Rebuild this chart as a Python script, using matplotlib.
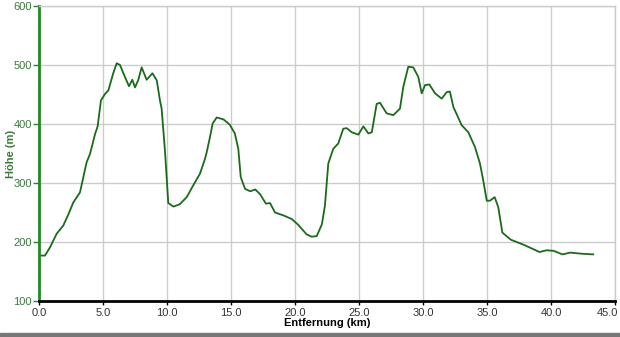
import numpy as np
import matplotlib.pyplot as plt
import matplotlib.transforms as mtransforms
from matplotlib.patches import Rectangle

# elevation profile
dist_km = [0.0, 0.47, 0.86, 1.38, 1.9, 2.3, 2.68, 3.2, 3.72, 3.98, 4.38, 4.58,
           4.84, 5.16, 5.42, 5.8, 6.07, 6.33, 6.59, 7.03, 7.29, 7.5, 7.76, 8.02,
           8.41, 8.86, 9.2, 9.45, 9.58, 9.84, 10.1, 10.5, 11.0, 11.54, 12.05,
           12.58, 12.97, 13.1, 13.36, 13.57, 13.88, 14.4, 14.9, 15.3, 15.57,
           15.76, 16.1, 16.5, 16.9, 17.27, 17.73, 18.05, 18.44, 19.1, 19.74,
           20.26, 20.9, 21.3, 21.7, 22.1, 22.34, 22.6, 22.99, 23.38, 23.77,
           24.04, 24.43, 24.95, 25.34, 25.73, 26.0, 26.38, 26.64, 27.16, 27.68,
           28.2, 28.46, 28.85, 29.24, 29.63, 29.9, 30.16, 30.5, 30.94, 31.46,
           31.85, 32.1, 32.37, 33.02, 33.54, 34.06, 34.45, 34.71, 34.98, 35.23,
           35.6, 35.88, 36.2, 36.85, 37.9, 38.7, 39.1, 39.66, 40.2, 40.9, 41.5,
           42.48, 43.3]
hoehe_m = [177, 177, 191, 214, 228, 247, 267, 284, 335, 349, 383, 396,
           440, 451, 457, 486, 503, 500, 486, 464, 475, 462, 475, 496,
           475, 486, 474, 440, 426, 355, 266, 260, 264, 276, 296,
           316, 341, 352, 378, 401, 411, 408, 399, 384, 358,
           310, 290, 286, 289, 281, 265, 266, 250, 245, 239,
           229, 213, 209, 210, 230, 262, 333, 358, 367, 392,
           393, 386, 382, 396, 384, 386, 434, 436, 418, 415,
           426, 463, 497, 496, 480, 452, 466, 467, 452, 443,
           454, 455, 429, 398, 386, 361, 333, 304, 270, 270,
           276, 259, 216, 204, 195, 187, 183, 186, 185, 179, 182,
           180, 179]

x_ticks = np.arange(0, 45.1, 5)
y_ticks = [100, 200, 300, 400, 500, 600]

green = '#1a6b1a'
label_green = '#3d7a3d'

plt.rcParams['font.family'] = ['Liberation Sans Narrow', 'Liberation Sans', 'DejaVu Sans']

fig = plt.figure(figsize=(6.2, 3.37), dpi=100)
ax = fig.add_axes([39/620, 1 - 301/337, 576/620, 295/337])

ax.plot(dist_km, hoehe_m, color=green, lw=1.3)

ax.set_xlim(0, 45)
ax.set_ylim(100, 600)
ax.set_xticks(x_ticks)
ax.set_xticklabels([f'{v:.1f}' for v in x_ticks])
ax.set_yticks(y_ticks)
ax.grid(True, color='#cccccc', lw=1)
ax.set_axisbelow(True)

for s in ['top', 'right']:
    ax.spines[s].set_color('#cccccc')
    ax.spines[s].set_linewidth(1)
ax.spines['left'].set_color('#1f8a1f')
ax.spines['left'].set_linewidth(2)
ax.spines['bottom'].set_color('black')
ax.spines['bottom'].set_linewidth(2)

ax.tick_params(axis='y', colors='#1f8a1f', labelcolor=label_green,
               length=4, width=1, labelsize=8, pad=1)
ax.tick_params(axis='x', colors='black', labelcolor='#333333',
               length=3, width=1, labelsize=8, pad=2)

# last x label sits at the window edge, keep it inside
last = ax.get_xticklabels()[-1]
last.set_ha('right')
last.set_transform(last.get_transform() +
                   mtransforms.ScaledTranslation(3/100, 0, fig.dpi_scale_trans))

ax.set_xlabel('Entfernung (km)', fontsize=8, fontweight='bold',
              family=['Liberation Sans', 'DejaVu Sans'])
ax.set_ylabel('Höhe (m)', fontsize=8, fontweight='bold', color=label_green,
              family=['Liberation Sans', 'DejaVu Sans'])
ax.xaxis.set_label_coords(0.5, -0.058)
ax.yaxis.set_label_coords(-0.04, 0.5)

# grey window border at the bottom
fig.patches.append(Rectangle((0, 0), 1, 4/337, transform=fig.transFigure,
                             color='#777777', zorder=0))

fig.savefig('out.png', dpi=100)
